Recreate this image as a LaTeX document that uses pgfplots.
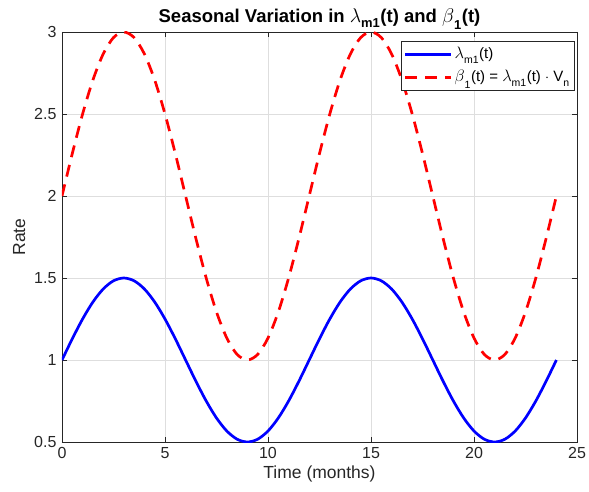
\documentclass[border=0pt]{standalone}
\usepackage{amsmath}
\usepackage{fontspec}
\setmainfont{Liberation Sans}
\usepackage{pgfplots}
\usepackage{pgfplotstable}
\pgfplotsset{compat=1.18}
\pgfplotstableread{
t lam beta
0 1 2
0.5 1.12941 2.25882
1 1.25 2.5
1.5 1.35355 2.70711
2 1.43301 2.86603
2.5 1.48296 2.96593
3 1.5 3
3.5 1.48296 2.96593
4 1.43301 2.86603
4.5 1.35355 2.70711
5 1.25 2.5
5.5 1.12941 2.25882
6 1 2
6.5 0.87059 1.74118
7 0.75 1.5
7.5 0.64645 1.29289
8 0.56699 1.13397
8.5 0.51704 1.03407
9 0.5 1
9.5 0.51704 1.03407
10 0.56699 1.13397
10.5 0.64645 1.29289
11 0.75 1.5
11.5 0.87059 1.74118
12 1 2
12.5 1.12941 2.25882
13 1.25 2.5
13.5 1.35355 2.70711
14 1.43301 2.86603
14.5 1.48296 2.96593
15 1.5 3
15.5 1.48296 2.96593
16 1.43301 2.86603
16.5 1.35355 2.70711
17 1.25 2.5
17.5 1.12941 2.25882
18 1 2
18.5 0.87059 1.74118
19 0.75 1.5
19.5 0.64645 1.29289
20 0.56699 1.13397
20.5 0.51704 1.03407
21 0.5 1
21.5 0.51704 1.03407
22 0.56699 1.13397
22.5 0.64645 1.29289
23 0.75 1.5
23.5 0.87059 1.74118
24 1 2
}\datatable
\definecolor{axgray}{gray}{0.15}
\definecolor{gridgray}{gray}{0.87}
\newcommand{\sub}[1]{_{\raisebox{-3pt}{$\scriptstyle\text{#1}$}}}
\newcommand{\gl}{\scalebox{1.15}{$\lambda$}}
\newcommand{\gb}{\scalebox{1.15}{$\beta$}}
\begin{document}
\fontsize{16}{18}\selectfont
\begin{tikzpicture}
\path[use as bounding box] (-62pt,-49pt) rectangle (527pt,442pt);
\begin{axis}[
  scale only axis,
  width=515pt, height=410pt,
  at={(0,0)}, anchor=south west,
  xmin=0, xmax=25, ymin=0.5, ymax=3,
  xtick={0,5,...,25},
  ytick={0.5,1,...,3},
  yticklabels={0.5,1,1.5,2,2.5,3},
  /pgf/number format/assume math mode=true,
  tick label style={font=\fontsize{16}{18}\selectfont, text=axgray},
  tick align=inside,
  major tick length=5pt,
  tick style={axgray, line width=0.6pt},
  axis line style={axgray, line width=0.6pt},
  grid=major,
  major grid style={gridgray, line width=0.6pt},
  xlabel={Time (months)},
  ylabel={Rate},
  label style={font=\fontsize{17.5}{19}\selectfont, text=axgray},
  xlabel style={yshift=4pt},
  ylabel style={yshift=-2pt},
  title={\textbf{Seasonal Variation in $\gl\sub{m1}$(t) and $\gb\sub{1}$(t)}},
  title style={font=\fontsize{18.5}{20}\selectfont, yshift=-9pt},
  legend style={at={(0.996,0.978)}, anchor=north east, draw=axgray, line width=0.6pt,
    font=\fontsize{15}{17}\selectfont, inner xsep=3pt, inner ysep=4pt, row sep=5pt, cells={anchor=west}},
  legend image code/.code={\draw[#1] (0pt,0pt) -- (46pt,0pt);},
]
\addplot[blue, line width=2.7pt, smooth] table[x=t, y=lam] {\datatable};
\addlegendentry{$\gl\sub{m1}$(t)}
\addplot[red, line width=2.7pt, smooth, dash pattern=on 12pt off 8pt] table[x=t, y=beta] {\datatable};
\addlegendentry{$\gb\sub{1}$(t) = $\gl\sub{m1}$(t) $\cdot$ V$\sub{n}$}
\end{axis}
\end{tikzpicture}
\end{document}
